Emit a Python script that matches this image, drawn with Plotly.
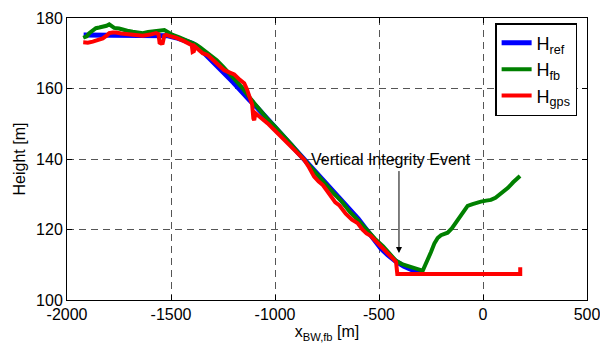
import plotly.graph_objects as go

# ---------------- data ----------------
ref_x = [-1920, -1850, -1750, -1650, -1560, -1520, -1476, -1440, -1396, -1360, -1324, -1284,
         -1244, -1200, -1163, -1124, -1083, -1043, -1003, -960, -923, -880, -859, -800, -750,
         -699, -650, -600, -571, -530, -490, -458, -420, -380, -330, -298]
ref_h = [175.2, 175.2, 175.1, 175.1, 175.1, 175.0, 174.4, 173.8, 172.8, 171.2, 169.2, 166.8,
         164.3, 161.7, 159.1, 156.8, 154.4, 151.8, 149.2, 146.6, 144.2, 141.2, 139.8, 136.3, 133.0,
         129.8, 126.6, 123.0, 120.8, 117.4, 114.6, 112.8, 111.0, 109.6, 108.3, 108.0]

fb_x = [-1922, -1905, -1893, -1875, -1861, -1845, -1828, -1810, -1797, -1785, -1773, -1750,
        -1732, -1710, -1684, -1660, -1636, -1610, -1590, -1572, -1550, -1532, -1512, -1492,
        -1460, -1428, -1404, -1380, -1360, -1340, -1310, -1280, -1250, -1220, -1190, -1160,
        -1130, -1100, -1070, -1040, -1000, -960, -920, -880, -840, -800, -760, -720, -680,
        -640, -600, -560, -520, -480, -450, -418, -390, -362, -345, -331, -310, -290, -270,
        -250, -234, -218, -202, -186, -170, -150, -122, -100, -74, -50, -30, -10, 15, 38, 60,
        77, 100, 120, 145, 168, 178]
fb_h = [174.4, 174.8, 175.7, 176.6, 177.1, 177.3, 177.5, 177.8, 178.2, 177.8, 177.2, 177.0,
        176.6, 176.4, 176.1, 175.9, 175.7, 176.0, 176.2, 176.3, 176.5, 176.6, 175.9, 175.2,
        174.5, 173.8, 173.2, 172.5, 171.7, 170.8, 169.6, 168.0, 166.2, 164.4, 162.5, 160.4,
        158.0, 155.8, 153.6, 151.6, 149.2, 146.7, 144.0, 141.2, 138.4, 135.6, 133.0, 130.4, 128.0,
        125.0, 122.6, 119.8, 117.4, 115.2, 113.2, 111.1, 110.2, 109.7, 109.6, 109.2, 108.7, 108.3, 110.8,
        113.6, 116.0, 117.6, 118.4, 118.8, 119.1, 120.3, 122.7, 124.5, 126.7, 127.2, 127.6, 127.9, 128.2, 128.4, 129.0,
        129.8, 130.8, 131.8, 133.4, 134.9, 135.2]

gps_x = [-1922, -1900, -1876, -1850, -1828, -1810, -1797, -1780, -1764, -1740, -1720, -1700,
         -1670, -1636, -1600, -1572, -1560, -1555, -1548, -1540, -1532, -1524, -1500, -1476,
         -1440, -1412, -1400, -1396, -1390, -1385, -1365, -1348, -1324, -1300, -1270, -1244,
         -1220, -1196, -1170, -1148, -1135, -1124, -1110, -1104, -1100, -1094, -1083, -1060,
         -1035, -1010, -987, -955, -923, -890, -860, -840, -812, -790, -770, -750, -731, -710,
         -690, -660, -630, -603, -580, -560, -540, -520, -490, -460, -440, -426, -418, -412,
         -300, -200, -100, 0, 100, 179, 179]
gps_h = [173.1, 173.0, 173.3, 173.8, 174.2, 175.0, 175.7, 175.9, 175.9, 175.6, 175.5, 175.4,
         175.2, 175.0, 175.3, 175.7, 175.4, 173.0, 172.8, 172.9, 175.0, 175.2, 174.8, 174.4,
         173.5, 172.8, 172.3, 170.4, 170.6, 171.9, 170.8, 170.0, 169.5, 168.2, 166.5, 165.2,
         164.6, 164.0, 162.5, 161.5, 159.8, 158.2, 155.5, 151.5, 151.0, 153.0, 152.5, 151.2,
         150.1, 148.6, 147.3, 145.4, 143.5, 141.6, 139.8, 138.0, 135.0, 133.6, 132.6, 131.0, 129.3, 127.7,
         126.8, 124.5, 122.8, 121.8, 120.0, 118.9, 118.2, 117.0, 115.1, 113.0, 112.0, 111.3, 110.8, 107.4,
         107.4, 107.4, 107.4, 107.4, 107.4, 107.4, 109.3]

x_ticks = [-2000, -1500, -1000, -500, 0, 500]
x_tick_labels = ["-2000", "-1500", "-1000", "-500", "0", "500"]
y_ticks = [100, 120, 140, 160, 180]
y_tick_labels = ["100", "120", "140", "160", "180"]

event_text = "Vertical Integrity Event"
event_text_pos = (-836, 140)
arrow_tail = (-404, 137)
arrow_tip = (-404, 113.3)

FONT = "Liberation Sans, Arial, Helvetica, sans-serif"

fig = go.Figure()
fig.add_trace(go.Scatter(x=ref_x, y=ref_h, mode="lines", name="H<sub>ref</sub>",
                         line=dict(color="#0000FF", width=5)))
fig.add_trace(go.Scatter(x=fb_x, y=fb_h, mode="lines", name="H<sub>fb</sub>",
                         line=dict(color="#008000", width=4)))
fig.add_trace(go.Scatter(x=gps_x, y=gps_h, mode="lines", name="H<sub>gps</sub>",
                         line=dict(color="#FF0000", width=4)))

axis_common = dict(
    showline=True, linecolor="black", linewidth=1, mirror="allticks",
    ticks="inside", ticklen=5, tickcolor="black",
    showgrid=True, gridcolor="#555555", gridwidth=1, griddash="7px,5px",
    zeroline=False, tickfont=dict(family=FONT, size=16, color="black"),
    automargin=False, ticklabeloverflow="allow",
)

fig.update_xaxes(range=[-2000, 500], tickvals=x_ticks, ticktext=x_tick_labels, ticklabelstandoff=0,
                 title=dict(text="x<sub>BW,fb</sub> [m]", font=dict(family=FONT, size=16, color="black"),
                            standoff=0),
                 **axis_common)
fig.update_yaxes(range=[100, 180], tickvals=y_ticks, ticktext=y_tick_labels,
                 title=dict(text="Height [m]", font=dict(family=FONT, size=16, color="black"),
                            standoff=6),
                 **axis_common)

fig.add_annotation(x=event_text_pos[0], y=event_text_pos[1], text=event_text, showarrow=False,
                   xanchor="left", yanchor="middle",
                   font=dict(family=FONT, size=16, color="black"))
fig.add_annotation(x=arrow_tip[0], y=arrow_tip[1], ax=arrow_tail[0], ay=arrow_tail[1],
                   axref="x", ayref="y", xref="x", yref="y", text="", showarrow=True,
                   arrowhead=2, arrowsize=1.2, arrowwidth=1, arrowcolor="black")

fig.update_layout(
    width=600, height=345,
    margin=dict(l=67, r=13, t=18, b=45),
    paper_bgcolor="white", plot_bgcolor="white",
    font=dict(family=FONT, size=16, color="black"),
    showlegend=True,
    legend=dict(x=0.981, y=0.982, xanchor="right", yanchor="top",
                bgcolor="white", bordercolor="black", borderwidth=1.5,
                font=dict(family=FONT, size=18, color="black"),
                itemwidth=30, tracegroupgap=0),
)

fig.write_html("out.html", config={"displayModeBar": False},
               post_script="document.body.style.margin='0px';")
